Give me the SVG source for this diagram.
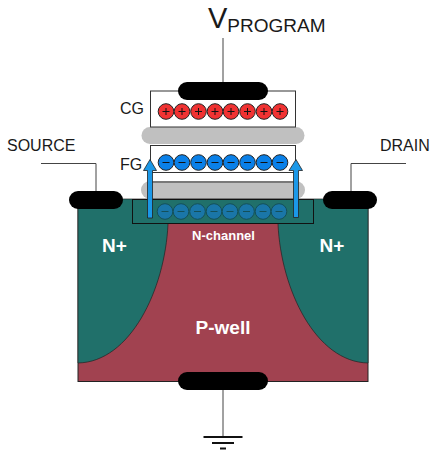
<svg xmlns="http://www.w3.org/2000/svg" width="431" height="450" viewBox="0 0 431 450">
<style>
text{font-family:"Liberation Sans",Arial,sans-serif;fill:#1a1a1a}
.w{fill:#fff;font-weight:bold}
.pad{fill:#000}
.wire{fill:none;stroke:#444;stroke-width:1}
.box{fill:#fff;stroke:#333;stroke-width:1}
.ox{fill:#c0c0c0}
.p{fill:#f03232;stroke:#222;stroke-width:1}
.n{fill:#0a80e8;stroke:#222;stroke-width:1}
.c{fill:#1a76a8;stroke:#14505a;stroke-width:1}
.s{stroke:#111;stroke-width:1;fill:none}
.arrow{fill:#1b98e8;stroke:#222;stroke-width:.8}
</style>
<defs>
<g id="plus"><circle class="p" r="7.800"/><path class="s" d="M-3.500 0H3.500M0-3.500V3.500"/></g>
<g id="minus"><circle class="n" r="7.800"/><path class="s" d="M-3.500 0H3.500"/></g>
<g id="cminus"><circle class="c" r="7.800"/><path d="M-3.500 0H3.500" stroke="#14505a" fill="none"/></g>
</defs>
<g id="substrate">
<rect id="p-well" x="78" y="199.500" width="290" height="182" fill="#a14250" stroke="#222" stroke-width="1"/>
<path id="n-left" d="M78 199H168V224C165 290 130 362 78 363Z" fill="#20706a" stroke="#222" stroke-width=".7"/>
<path id="n-right" d="M368 199H278V224C281 290 316 362 368 363Z" fill="#20706a" stroke="#222" stroke-width=".7"/>
<text class="w" x="114.500" y="252" font-size="19" text-anchor="middle">N+</text>
<text class="w" x="332" y="252" font-size="19" text-anchor="middle">N+</text>
<text class="w" x="223" y="334" font-size="19" text-anchor="middle">P-well</text>
</g>
<g id="connectors">
<path class="wire" d="M223 38V82M96 192V163.500H41M351 192V163.500H406M223 388V436"/>
</g>
<g id="tunnel-oxide">
<rect class="ox" x="141" y="181" width="164" height="18" rx="9"/>
<rect x="151" y="182" width="144" height="17" fill="#c0c0c0" stroke="#333"/>
</g>
<g id="n-channel">
<rect x="132.500" y="199.500" width="181" height="24" fill="#20706a" stroke="#111"/>
<text class="w" x="223.500" y="240" font-size="13" text-anchor="middle">N-channel</text>
<use href="#cminus" x="165" y="211.500"/><use href="#cminus" x="181" y="211.500"/><use href="#cminus" x="197.500" y="211.500"/><use href="#cminus" x="214" y="211.500"/><use href="#cminus" x="230" y="211.500"/><use href="#cminus" x="246.500" y="211.500"/><use href="#cminus" x="263" y="211.500"/><use href="#cminus" x="279" y="211.500"/>
</g>
<g id="floating-gate">
<rect class="box" x="150.500" y="145.500" width="145" height="27"/>
<text x="120" y="170" font-size="16">FG</text>
<use href="#minus" x="166" y="162.500"/><use href="#minus" x="182" y="162.500"/><use href="#minus" x="198.500" y="162.500"/><use href="#minus" x="215" y="162.500"/><use href="#minus" x="231" y="162.500"/><use href="#minus" x="247.500" y="162.500"/><use href="#minus" x="264" y="162.500"/><use href="#minus" x="280" y="162.500"/>
</g>
<g id="inter-oxide"><rect class="ox" x="141.500" y="127" width="163" height="17" rx="8.500"/></g>
<g id="control-gate">
<rect class="box" x="150.500" y="91" width="145" height="36"/>
<text x="120" y="114" font-size="16">CG</text>
<use href="#plus" x="166" y="111.500"/><use href="#plus" x="182" y="111.500"/><use href="#plus" x="198.500" y="111.500"/><use href="#plus" x="215" y="111.500"/><use href="#plus" x="231" y="111.500"/><use href="#plus" x="247.500" y="111.500"/><use href="#plus" x="264" y="111.500"/><use href="#plus" x="280" y="111.500"/>
</g>
<g id="arrows">
<path class="arrow" d="M147.500 218V170.500H143.500L150 159.500L156.500 170.500H152.500V218Z"/>
<path class="arrow" d="M293.500 217.500V170.500H289L296 159.500L302.500 170.500H298.500V217.500Z"/>
</g>
<g id="contact-cg"><rect class="pad" x="178" y="82" width="90" height="18" rx="9"/></g>
<g id="contact-source"><rect class="pad" x="69" y="191" width="54" height="18" rx="9"/><text x="7" y="151" font-size="16">SOURCE</text></g>
<g id="contact-drain"><rect class="pad" x="323" y="191" width="54" height="18" rx="9"/><text x="380" y="151" font-size="16">DRAIN</text></g>
<g id="contact-body"><rect class="pad" x="178" y="372" width="90" height="18" rx="9"/></g>
<g id="program-label"><text x="208" y="28" font-size="29">V<tspan font-size="19" dy="4">PROGRAM</tspan></text></g>
<g id="ground"><path stroke="#111" stroke-width="2" fill="none" d="M203.500 437H242.500M212 443H234M220 448.500H226"/></g>
</svg>
